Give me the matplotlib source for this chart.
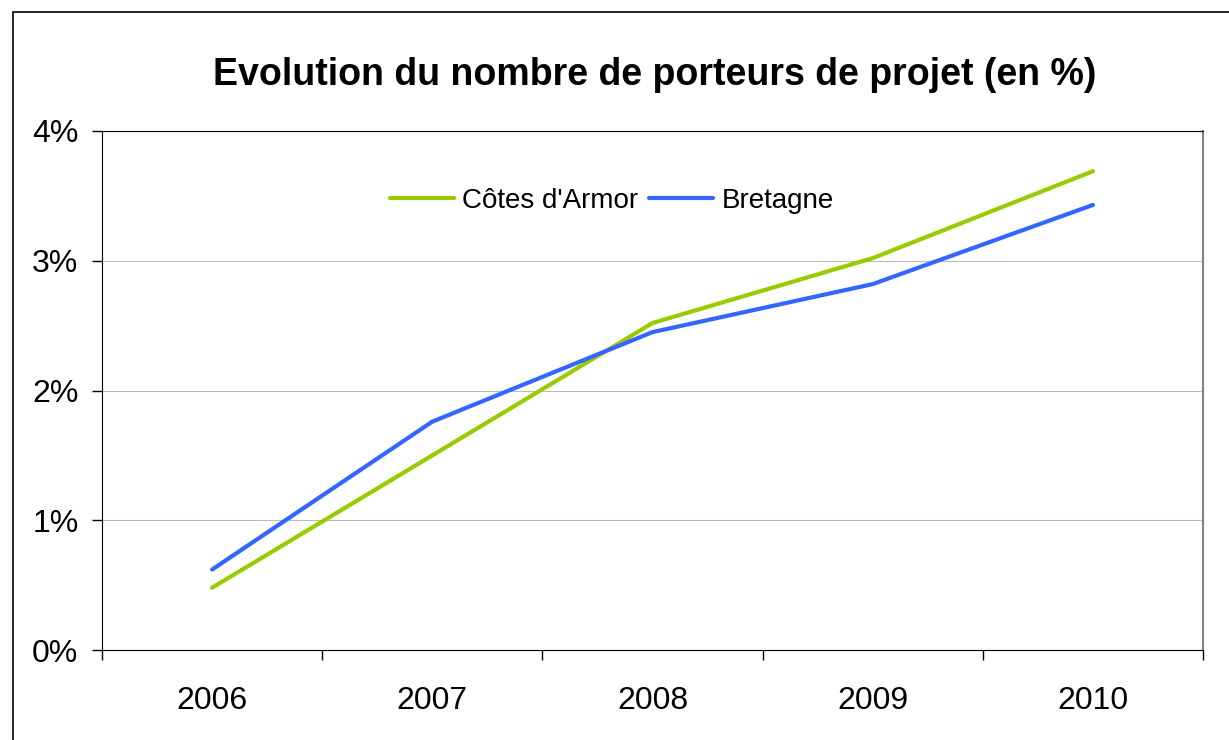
import matplotlib.pyplot as plt
import matplotlib.patches as patches
from matplotlib.ticker import FixedLocator

years = ["2006", "2007", "2008", "2009", "2010"]
cotes_armor = [0.48, 1.50, 2.52, 3.02, 3.69]
bretagne = [0.62, 1.76, 2.45, 2.82, 3.43]
y_ticks = [0, 1, 2, 3, 4]
y_labels = ["0%", "1%", "2%", "3%", "4%"]

plt.rcParams["font.family"] = ["Liberation Sans", "DejaVu Sans"]

fig = plt.figure(figsize=(12.29, 7.40), dpi=100)
ax = fig.add_axes([102 / 1229, 1 - 650 / 740, 1101 / 1229, 519 / 740])

# outer frame of the chart (clipped by image edges on right/bottom)
fig.patches.append(patches.Rectangle((13 / 1229, -0.1), 1.2, 1 - 12 / 740 + 0.1,
                                     transform=fig.transFigure, fill=False,
                                     edgecolor="black", linewidth=1.2))

x = list(range(len(years)))
ax.plot(x, cotes_armor, color="#99CC00", linewidth=3.0, solid_capstyle="round",
        label="Côtes d'Armor")
ax.plot(x, bretagne, color="#3366FF", linewidth=3.0, solid_capstyle="round",
        label="Bretagne")

ax.set_xlim(-0.5, len(years) - 0.5)
ax.set_ylim(0, 4)
ax.xaxis.set_major_locator(FixedLocator([i - 0.5 for i in range(len(years) + 1)]))
ax.xaxis.set_minor_locator(FixedLocator(x))
ax.set_xticklabels([""] * (len(years) + 1))
ax.set_xticklabels(years, minor=True)
ax.tick_params(axis="x", which="major", direction="out", length=7, width=1)
ax.tick_params(axis="x", which="minor", length=0, pad=26, labelsize=23)
ax.set_yticks(y_ticks)
ax.set_yticklabels(y_labels)
ax.tick_params(axis="y", direction="out", length=7, width=1, pad=10, labelsize=23)

ax.grid(axis="y", color="#BBBBBB", linewidth=0.8)
ax.set_axisbelow(True)
for side in ["left", "bottom", "top"]:
    ax.spines[side].set_color("black")
ax.spines["right"].set_color("#808080")
ax.spines["right"].set_linewidth(1.5)

ax.legend(loc="center", bbox_to_anchor=(0.463, 0.866), ncol=2, frameon=False,
          fontsize=20, handlelength=2.3, handletextpad=0.3, columnspacing=0.4)

fig.text(655 / 1229, 1 - 75 / 740, "Evolution du nombre de porteurs de projet (en %)",
         ha="center", va="center", fontsize=27, fontweight="bold")

fig.savefig("out.png", dpi=100)
